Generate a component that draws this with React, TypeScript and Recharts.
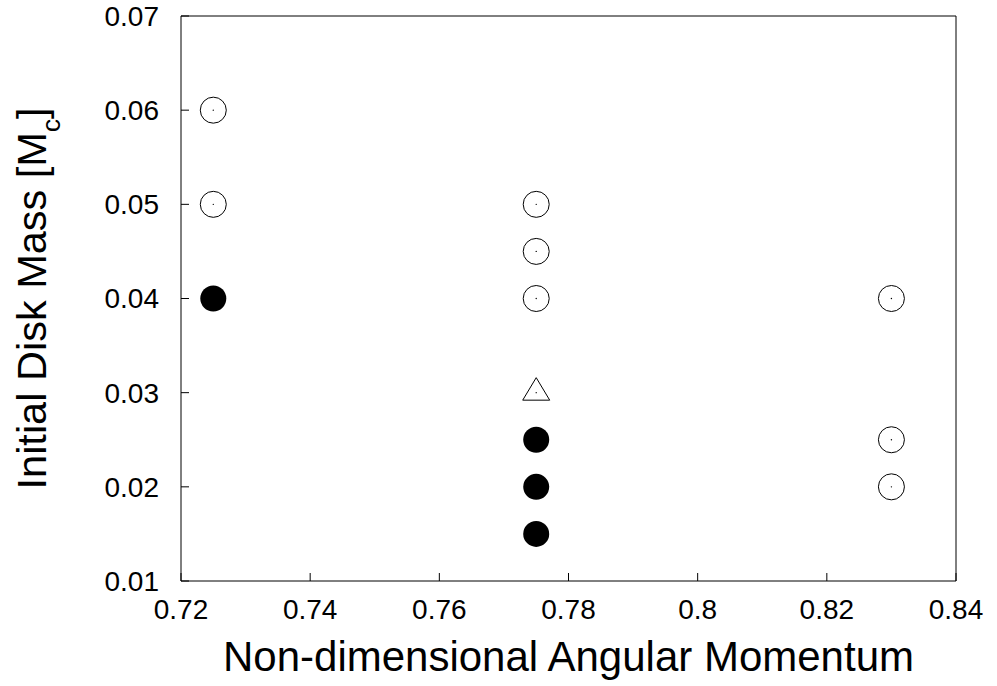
import { ScatterChart, Scatter, XAxis, YAxis } from 'recharts'

const FONT = '"Liberation Sans", Arial, Helvetica, sans-serif'

// angular momentum (x) vs initial disk mass (y)
const openMomentum = [0.725, 0.725, 0.775, 0.775, 0.775, 0.83, 0.83, 0.83]
const openMass = [0.06, 0.05, 0.05, 0.045, 0.04, 0.04, 0.025, 0.02]

const filledMomentum = [0.725, 0.775, 0.775, 0.775]
const filledMass = [0.04, 0.025, 0.02, 0.015]

const triangleMomentum = [0.775]
const triangleMass = [0.03]

const xTicks = [0.72, 0.74, 0.76, 0.78, 0.8, 0.82, 0.84]
const yTicks = [0.01, 0.02, 0.03, 0.04, 0.05, 0.06, 0.07]

const toPoints = (xs: number[], ys: number[]) =>
  xs.map((x, i) => ({ x, y: ys[i] }))

const openData = toPoints(openMomentum, openMass)
const filledData = toPoints(filledMomentum, filledMass)
const triangleData = toPoints(triangleMomentum, triangleMass)

const OpenCircle = (props: any) => {
  const { cx, cy } = props
  return (
    <g>
      <circle cx={cx} cy={cy} r={13} fill="#fff" stroke="#000" strokeWidth={1} />
      <circle cx={cx} cy={cy} r={0.7} fill="#000" />
    </g>
  )
}

const FilledCircle = (props: any) => {
  const { cx, cy } = props
  return <circle cx={cx} cy={cy} r={13} fill="#000" />
}

const Triangle = (props: any) => {
  const { cx, cy } = props
  const h = 22.5
  const half = 13.5
  const pts = `${cx},${cy - h * 2 / 3} ${cx - half},${cy + h / 3} ${cx + half},${cy + h / 3}`
  return (
    <g>
      <polygon points={pts} fill="#fff" stroke="#000" strokeWidth={1} />
      <circle cx={cx} cy={cy} r={0.7} fill="#000" />
    </g>
  )
}

const tickStyle = { fontSize: 28, fill: '#000', fontFamily: FONT }

const YLabel = (props: any) => {
  const vb = props.viewBox || {}
  const cy = vb.y + vb.height / 2
  const x = 46
  return (
    <text
      x={x}
      y={cy}
      transform={`rotate(-90, ${x}, ${cy})`}
      textAnchor="middle"
      fontSize={41.5}
      fontFamily={FONT}
      fill="#000"
    >
      Initial Disk Mass [M
      <tspan fontSize={26} dy={14}>c</tspan>
      <tspan dy={-14}>]</tspan>
    </text>
  )
}

const XLabel = (props: any) => {
  const vb = props.viewBox || {}
  const cx = vb.x + vb.width / 2
  return (
    <text x={cx} y={671} textAnchor="middle" fontSize={42} fontFamily={FONT} fill="#000">
      Non-dimensional Angular Momentum
    </text>
  )
}

export default function App() {
  return (
    <div style={{ width: 997, height: 686, background: '#fff' }}>
      <style>{'body{margin:0}'}</style>
      <ScatterChart width={997} height={686} margin={{ top: 0, right: 0, bottom: 0, left: 0 }}>
        <XAxis
          xAxisId="bottom"
          dataKey="x"
          type="number"
          domain={[0.72, 0.84]}
          ticks={xTicks}
          orientation="bottom"
          height={105}
          tickSize={-8}
          tickMargin={26}
          tickFormatter={(v: number) => String(v)}
          tick={tickStyle}
          stroke="#000"
          axisLine={{ stroke: '#000', strokeWidth: 1 }}
          tickLine={{ stroke: '#000' }}
          allowDataOverflow
          label={<XLabel />}
        />
        <XAxis
          xAxisId="top"
          dataKey="x"
          type="number"
          domain={[0.72, 0.84]}
          ticks={xTicks}
          orientation="top"
          height={16}
          tickSize={-8}
          tick={false}
          axisLine={{ stroke: '#000', strokeWidth: 1 }}
          tickLine={{ stroke: '#000' }}
          allowDataOverflow
        />
        <YAxis
          yAxisId="left"
          dataKey="y"
          type="number"
          domain={[0.01, 0.07]}
          ticks={yTicks}
          orientation="left"
          width={181}
          tickSize={-8}
          tickMargin={30}
          tickFormatter={(v: number) => String(v)}
          tick={tickStyle}
          axisLine={{ stroke: '#000', strokeWidth: 1 }}
          tickLine={{ stroke: '#000' }}
          allowDataOverflow
          label={<YLabel />}
        />
        <YAxis
          yAxisId="right"
          dataKey="y"
          type="number"
          domain={[0.01, 0.07]}
          ticks={yTicks}
          orientation="right"
          width={41}
          tickSize={-8}
          tick={false}
          axisLine={{ stroke: '#000', strokeWidth: 1 }}
          tickLine={{ stroke: '#000' }}
          allowDataOverflow
        />
        <Scatter
          data={openData}
          xAxisId="bottom"
          yAxisId="left"
          shape={OpenCircle}
          isAnimationActive={false}
        />
        <Scatter
          data={filledData}
          xAxisId="bottom"
          yAxisId="left"
          shape={FilledCircle}
          isAnimationActive={false}
        />
        <Scatter
          data={triangleData}
          xAxisId="bottom"
          yAxisId="left"
          shape={Triangle}
          isAnimationActive={false}
        />
      </ScatterChart>
    </div>
  )
}
